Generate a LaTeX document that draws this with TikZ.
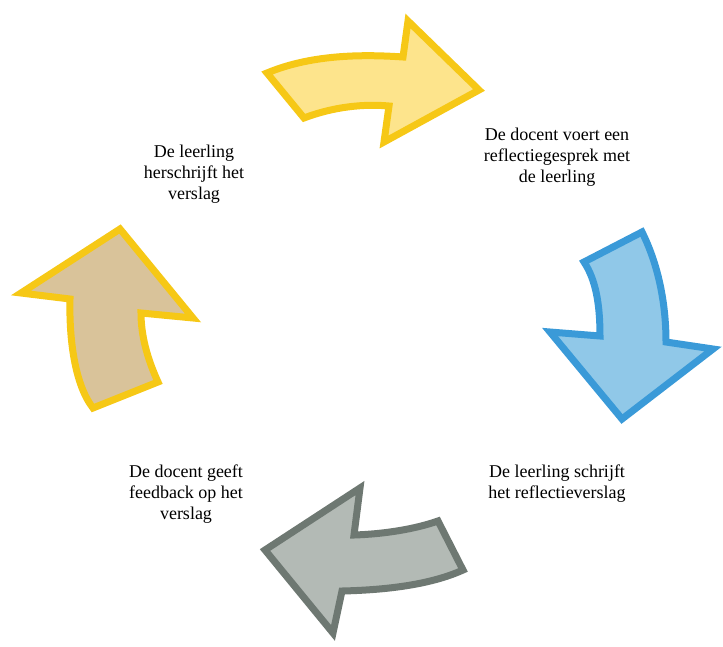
\documentclass[tikz,border=0pt]{standalone}
\usepackage{fontspec}
\setmainfont{Liberation Serif}
\usetikzlibrary{positioning}
\definecolor{geelrand}{HTML}{F6C816}
\definecolor{geelvul}{HTML}{FDE48C}
\definecolor{blauwrand}{HTML}{3A9AD8}
\definecolor{blauwvul}{HTML}{90C8E8}
\definecolor{grijsrand}{HTML}{6E7872}
\definecolor{grijsvul}{HTML}{B3BAB5}
\definecolor{bruinvul}{HTML}{D9C39A}
\begin{document}
\begin{tikzpicture}[x=1pt, y=-1pt,
      t/.style={font=\fontsize{18}{21}\selectfont, align=center, inner sep=0pt},
      pijl/.style={line width=7pt, line join=miter}]
    \useasboundingbox (0,0) rectangle (723,646);
    % pijlen
    \draw[pijl, draw=geelrand, fill=geelvul] (267,73) .. controls (310,55) and (360,54) .. (403,57)
      -- (408,21) -- (479,90) -- (384,142) -- (389,106) .. controls (355,103) and (325,110) .. (304,118) -- cycle;
    \draw[pijl, draw=blauwrand, fill=blauwvul] (584,262) -- (642,232) .. controls (657,262) and (666,300) .. (666,342)
      -- (713,349) -- (622,419) -- (550,332) -- (600,336) .. controls (600,305) and (596,280) .. (584,262) -- cycle;
    \draw[pijl, draw=grijsrand, fill=grijsvul] (438,521) .. controls (415,529) and (385,534) .. (354,535)
      -- (360,488) -- (265,550) -- (333,633) -- (342,591) .. controls (385,590) and (430,585) .. (463,570) -- cycle;
    \draw[pijl, draw=geelrand, fill=bruinvul] (93,408) -- (158,382) .. controls (147,358) and (141,335) .. (141,313)
      -- (193,318) -- (120,229) -- (21,293) -- (70,299) .. controls (69,340) and (75,385) .. (93,408) -- cycle;
    % teksten
    \node[t] (herschrijft) at (194,174) {De leerling\\herschrijft het\\verslag};
    \node[t] (gesprek) at (557,157) {De docent voert een\\reflectiegesprek met\\de leerling};
    \node[t] (schrijft) at (557,484) {De leerling schrijft\\het reflectieverslag};
    \node[t] (feedback) at (186,494) {De docent geeft\\feedback op het\\verslag};
  \end{tikzpicture}
\end{document}
